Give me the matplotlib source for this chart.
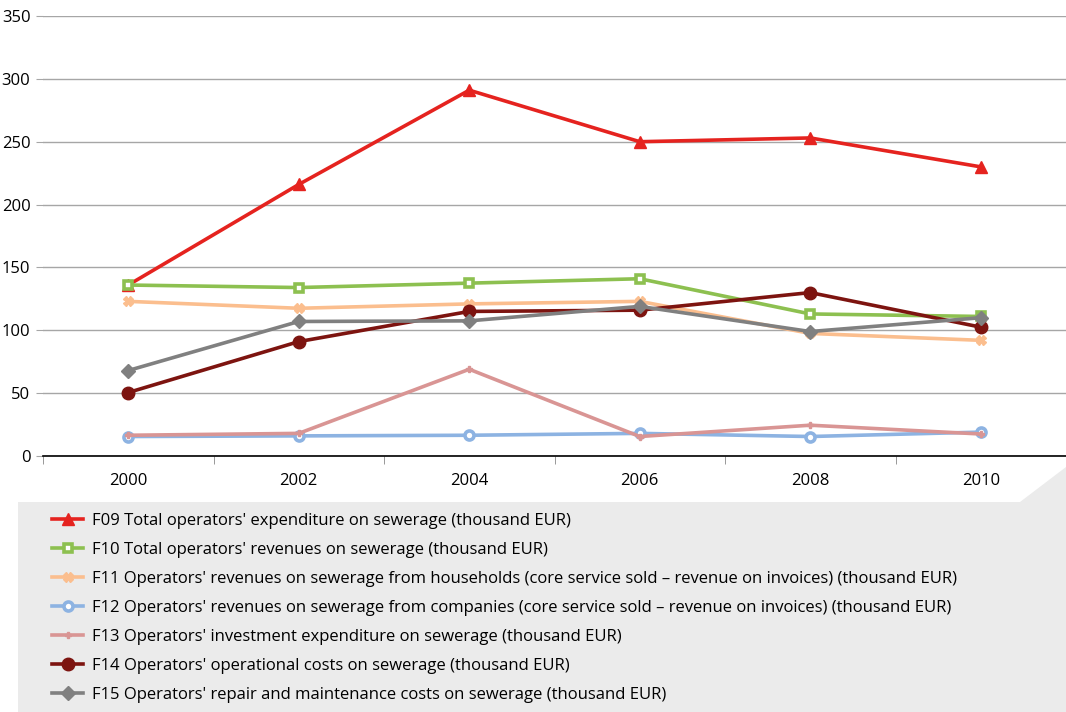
import numpy as np
import matplotlib
matplotlib.use('Agg')
import matplotlib.pyplot as plt
from matplotlib.patches import Polygon

plt.rcParams['font.family'] = ['Open Sans', 'DejaVu Sans']

years = ['2000', '2002', '2004', '2006', '2008', '2010']

f09 = [136, 216, 291, 250, 253, 230]
f10 = [136, 134, 137.5, 141, 113, 111]
f11 = [123, 117.5, 121, 123, 97.5, 92]
f12 = [15.5, 16, 16.5, 18, 15.5, 19]
f13 = [16.5, 18, 69, 15.5, 24.5, 17.5]
f14 = [50.5, 91, 115, 116, 130, 102.5]
f15 = [68, 107, 107.5, 119, 99, 110]

labels = [
    "F09 Total operators' expenditure on sewerage (thousand EUR)",
    "F10 Total operators' revenues on sewerage (thousand EUR)",
    "F11 Operators' revenues on sewerage from households (core service sold \u2013 revenue on invoices) (thousand EUR)",
    "F12 Operators' revenues on sewerage from companies (core service sold \u2013 revenue on invoices) (thousand EUR)",
    "F13 Operators' investment expenditure on sewerage (thousand EUR)",
    "F14 Operators' operational costs on sewerage (thousand EUR)",
    "F15 Operators' repair and maintenance costs on sewerage (thousand EUR)",
]

series = [f09, f10, f11, f12, f13, f14, f15]
colors = ['#E5231F', '#8DC050', '#FBBE8E', '#8DB3E2', '#D99594', '#7D1410', '#808080']
# marker, size, facecolor
styles = [
    ('^', 8, None),
    ('s', 6, 'white'),
    ('X', 7, None),
    ('o', 6.5, 'white'),
    ('P', 5, None),
    ('o', 9, None),
    ('D', 7, None),
]

W, H = 1066, 712
fig = plt.figure(figsize=(W / 100, H / 100), dpi=100)

# grey legend panel with a cut corner
panel = Polygon([(18 / W, 0), (18 / W, 1 - 502 / H), (1020 / W, 1 - 502 / H),
                 (1066 / W, 1 - 467 / H), (1, 0)], closed=True,
                transform=fig.transFigure, facecolor='#EBEBEB', edgecolor='none', zorder=0)
fig.patches.append(panel)

ax = fig.add_axes([43 / W, 1 - 456 / H, (W - 43) / W, 440 / H])
ax.set_facecolor('none')

x = np.arange(len(years))
handles = []
for vals, col, (mk, ms, fc), lab in zip(series, colors, styles, labels):
    h, = ax.plot(x, vals, color=col, lw=2.6, marker=mk, markersize=ms,
                 markerfacecolor=fc if fc else col, markeredgecolor=col,
                 markeredgewidth=2.6 if fc else 1, label=lab, zorder=3)
    handles.append(h)

ax.set_xlim(-0.5, len(years) - 0.5)
ax.set_ylim(0, 350)
ax.set_yticks(np.arange(0, 351, 50))
ax.yaxis.grid(True, color='#A6A6A6', lw=1)
ax.set_axisbelow(True)

ax.set_xticks(x)
ax.set_xticklabels(years, fontsize=12)
ax.set_xticks(np.arange(-0.5, len(years)), minor=True)
ax.tick_params(axis='x', which='major', length=0, pad=12)
ax.tick_params(axis='x', which='minor', length=6, color='#888888', direction='out')
ax.tick_params(axis='y', length=5, color='#A6A6A6', labelsize=12, pad=4)

for s in ['top', 'right', 'left']:
    ax.spines[s].set_visible(False)
ax.spines['bottom'].set_color('black')
ax.spines['bottom'].set_linewidth(1.2)

fig.legend(handles=handles, loc='upper left', bbox_to_anchor=(45 / W, 1 - 506 / H),
           frameon=False, fontsize=12, labelspacing=0.78, handlelength=1.9,
           handletextpad=0.55, borderaxespad=0)

fig.savefig('out.png', dpi=100)
